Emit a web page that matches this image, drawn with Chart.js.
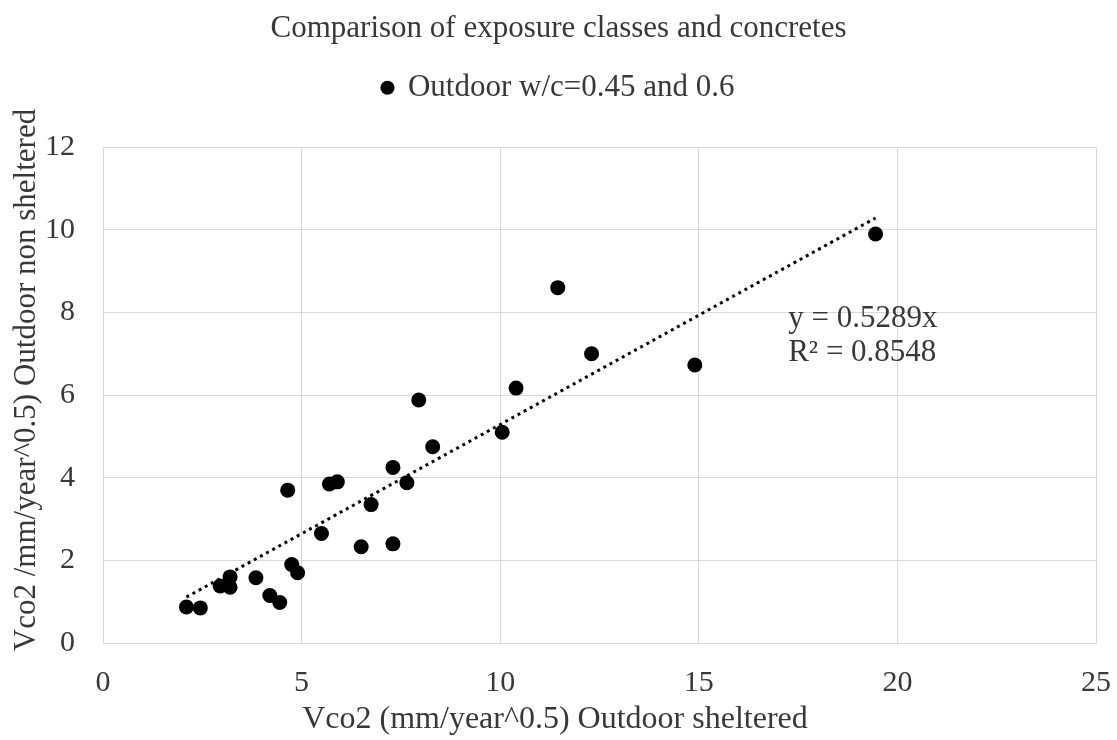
<!DOCTYPE html>
<html>
<head>
<meta charset="utf-8">
<script src="https://cdn.jsdelivr.net/npm/chart.js@4.4.0/dist/chart.umd.min.js"></script>
<style>
  html, body { margin: 0; padding: 0; background: #ffffff; }
  #wrap { width: 1117px; height: 740px; }
</style>
</head>
<body>
<div id="wrap"><canvas id="c" width="1117" height="740"></canvas></div>
<script>
// ---- data ----
const chartTitle = 'Comparison of exposure classes and concretes';
const seriesName = 'Outdoor w/c=0.45 and 0.6';
const xAxisTitle = 'Vco2 (mm/year^0.5) Outdoor sheltered';
const yAxisTitle = 'Vco2 /mm/year^0.5) Outdoor non sheltered';

const shelteredX = [2.1, 2.45, 2.95, 3.2, 3.2, 3.85, 4.2, 4.45, 4.65, 4.75, 4.9, 5.5, 5.7, 5.9, 6.5, 6.75, 7.3, 7.3, 7.65, 7.95, 8.3, 10.05, 10.4, 11.45, 12.3, 14.9, 19.45];
const nonShelteredY = [0.87, 0.85, 1.38, 1.6, 1.35, 1.58, 1.15, 0.98, 3.7, 1.9, 1.7, 2.65, 3.85, 3.9, 2.33, 3.35, 4.25, 2.4, 3.88, 5.88, 4.75, 5.1, 6.17, 8.6, 7.0, 6.73, 9.9];

const trendSlope = 0.5289;
const trendLabelLines = ['y = 0.5289x', 'R\u00B2 = 0.8548'];
const trendLabelAt = { x: 17.25, y: 7.84 };

const xTicks = [0, 5, 10, 15, 20, 25];
const yTicks = [0, 2, 4, 6, 8, 10, 12];

// ---- build datasets from the arrays ----
const points = shelteredX.map((x, i) => ({ x: x, y: nonShelteredY[i] }));
const xMin = Math.min(...shelteredX);
const xMax = Math.max(...shelteredX);
const trendPoints = [ { x: xMin, y: trendSlope * xMin }, { x: xMax, y: trendSlope * xMax } ];

const FONT = "'Liberation Serif', 'Times New Roman', serif";
const TEXT = '#383838';
const GRID = '#d9d9d9';

const annotations = {
  id: 'annotations',
  afterDraw(chart) {
    const ctx = chart.ctx;
    const xs = chart.scales.x, ys = chart.scales.y;
    ctx.save();
    ctx.fillStyle = TEXT;
    ctx.textBaseline = 'middle';
    // trendline equation
    ctx.font = '31px ' + FONT;
    ctx.textAlign = 'left';
    const lx = xs.getPixelForValue(trendLabelAt.x);
    const ly = ys.getPixelForValue(trendLabelAt.y);
    trendLabelLines.forEach((t, i) => ctx.fillText(t, lx, ly + i * 34));
    // x axis title
    ctx.font = '32px ' + FONT;
    ctx.textAlign = 'center';
    ctx.fillText(xAxisTitle, 555, 720);
    // y axis title
    ctx.font = '31px ' + FONT;
    ctx.translate(27, 380);
    ctx.rotate(-Math.PI / 2);
    ctx.fillText(yAxisTitle, 0, 0);
    ctx.restore();
  }
};

new Chart(document.getElementById('c'), {
  type: 'scatter',
  data: {
    datasets: [
      {
        label: seriesName,
        data: points,
        backgroundColor: '#000000',
        borderColor: '#000000',
        borderWidth: 0,
        pointRadius: 7.5,
        pointHoverRadius: 7.5,
        order: 1
      },
      {
        label: 'Linear trend',
        data: trendPoints,
        showLine: true,
        borderColor: '#000000',
        borderWidth: 3,
        borderDash: [3, 4],
        pointRadius: 0,
        fill: false,
        order: 2
      }
    ]
  },
  options: {
    responsive: false,
    animation: false,
    devicePixelRatio: 1,
    layout: { padding: { left: 0, right: 0, top: 0, bottom: 0 } },
    plugins: {
      title: {
        display: true,
        text: chartTitle,
        color: TEXT,
        font: { family: FONT, size: 31, weight: 'normal' },
        padding: { top: 10, bottom: -19 }
      },
      legend: {
        display: true,
        position: 'top',
        labels: {
          color: TEXT,
          font: { family: FONT, size: 31 },
          usePointStyle: true,
          pointStyle: 'circle',
          boxWidth: 10,
          boxHeight: 10,
          padding: 44,
          filter: (item) => item.datasetIndex === 0
        }
      },
      tooltip: { enabled: false }
    },
    scales: {
      x: {
        type: 'linear',
        min: 0,
        max: 25,
        afterBuildTicks: (s) => { s.ticks = xTicks.map(v => ({ value: v })); },
        afterFit: (s) => { s.height = 97; },
        grid: { color: GRID, lineWidth: 1, drawTicks: true, tickLength: 16, tickColor: 'rgba(0,0,0,0)' },
        border: { display: true, color: GRID },
        ticks: { color: TEXT, font: { family: FONT, size: 30 }, padding: 6 }
      },
      gap: {
        type: 'linear',
        position: 'top',
        axis: 'x',
        min: 0,
        max: 25,
        afterFit: (s) => { s.height = 34; },
        grid: { display: false, drawTicks: false },
        border: { display: false },
        ticks: { display: false }
      },
      y: {
        type: 'linear',
        min: 0,
        max: 12,
        afterBuildTicks: (s) => { s.ticks = yTicks.map(v => ({ value: v })); },
        afterFit: (s) => { s.width = 103; },
        grid: { color: GRID, lineWidth: 1, drawTicks: false },
        border: { display: true, color: GRID },
        ticks: { color: TEXT, font: { family: FONT, size: 30 }, padding: 28 }
      }
    }
  },
  plugins: [annotations]
});
</script>
</body>
</html>
